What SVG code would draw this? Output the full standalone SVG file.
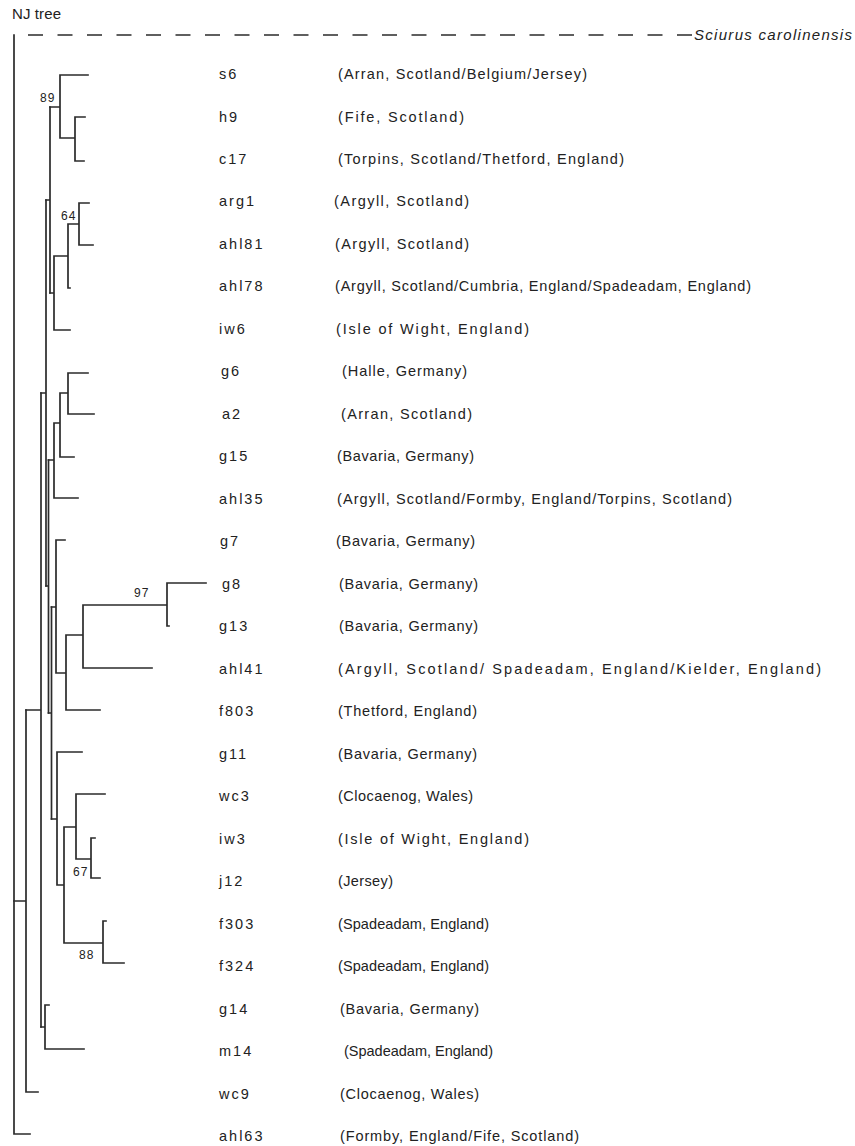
<svg xmlns="http://www.w3.org/2000/svg" width="855" height="1146" viewBox="0 0 855 1146">
<style>
text { font-family: "Liberation Sans", Arial, sans-serif; fill: #222; }
.nm { font-size: 14.5px; letter-spacing: 2px; }
.loc { font-size: 14.5px; letter-spacing: 1px; }
.bs { font-size: 12px; letter-spacing: 1px; }
.ttl { font-size: 15px; letter-spacing: 1px; }
.out { font-size: 15px; font-style: italic; }
.tree path { stroke: #2b2b2b; stroke-width: 1.7; fill: none; stroke-linecap: square; }
.tree path.dash { stroke-dasharray: 15 14.5; stroke-linecap: butt; }
</style>
<rect width="855" height="1146" fill="#fff"/>
<text class="ttl" x="12" y="19" textLength="50" lengthAdjust="spacing">NJ tree</text>
<g id="connectors" class="tree">
<path class="dash" d="M28 35 H692"/>
<path d="M14 35 V1134 H30"/>
<path d="M14 901 H26 M26 710 V1092 H38"/>
<path d="M26 710 H41 M41 393 V1027"/>
<path d="M41 1027 H45 M45 1005 V1049 H84 M45 1005 H49"/>
<path d="M41 393 H46 M46 200 V586"/>
<path d="M46 200 H50 M50 107 V293"/>
<path d="M50 107 H60 M60 75 V138 M60 75 H88 M60 138 H75 M75 117 V161 M75 117 H85 M75 161 H84"/>
<path d="M50 293 H54 M54 256 V330 H70 M54 256 H68 M68 224 V288 H70 M68 224 H79 M79 203 V245 M79 203 H89 M79 245 H93"/>
<path d="M46 586 H48.5 M48.5 460 V713"/>
<path d="M48.5 460 H54 M54 423 V498 H78 M54 423 H60 M60 393 V457 H74 M60 393 H68 M68 373 V414 H94 M68 373 H88"/>
<path d="M48.5 713 H51.5 M51.5 607 V819"/>
<path d="M51.5 607 H56 M56 540 V673 M56 540 H65 M56 673 H66 M66 635 V710 H100 M66 635 H83 M83 605 V668 H152 M83 605 H167 M167 583 V626 H169 M167 583 H206"/>
<path d="M51.5 819 H57 M57 752 V885 M57 752 H82 M57 885 H64 M64 827 V943 H103 M64 827 H76 M76 794 V859 H91 M76 794 H105 M91 838 V878 H100 M91 838 H95 M103 921 V963 H124 M103 921 H106"/>
</g>
<g id="bootstrap">
<text class="bs" x="40" y="102">89</text>
<text class="bs" x="61" y="220">64</text>
<text class="bs" x="134" y="597">97</text>
<text class="bs" x="73" y="876">67</text>
<text class="bs" x="79" y="959">88</text>
</g>
<g id="outgroup"><text class="out" x="694" y="40" textLength="158" lengthAdjust="spacing">Sciurus carolinensis</text></g>
<g id="s6"><text class="nm" x="219" y="79">s6</text><text class="loc" x="338" y="79" textLength="250" lengthAdjust="spacing">(Arran, Scotland/Belgium/Jersey)</text></g>
<g id="h9"><text class="nm" x="219" y="121.5">h9</text><text class="loc" x="338" y="121.5" textLength="127" lengthAdjust="spacing">(Fife, Scotland)</text></g>
<g id="c17"><text class="nm" x="219" y="164">c17</text><text class="loc" x="338" y="164" textLength="287" lengthAdjust="spacing">(Torpins, Scotland/Thetford, England)</text></g>
<g id="arg1"><text class="nm" x="219" y="206.4">arg1</text><text class="loc" x="334" y="206.4" textLength="136" lengthAdjust="spacing">(Argyll, Scotland)</text></g>
<g id="ahl81"><text class="nm" x="219" y="248.9">ahl81</text><text class="loc" x="335" y="248.9" textLength="135" lengthAdjust="spacing">(Argyll, Scotland)</text></g>
<g id="ahl78"><text class="nm" x="219" y="291.4">ahl78</text><text class="loc" x="335" y="291.4" textLength="417" lengthAdjust="spacing">(Argyll, Scotland/Cumbria, England/Spadeadam, England)</text></g>
<g id="iw6"><text class="nm" x="219" y="333.9">iw6</text><text class="loc" x="336" y="333.9" textLength="194" lengthAdjust="spacing">(Isle of Wight, England)</text></g>
<g id="g6"><text class="nm" x="221" y="376.4">g6</text><text class="loc" x="342" y="376.4" textLength="126" lengthAdjust="spacing">(Halle, Germany)</text></g>
<g id="a2"><text class="nm" x="222" y="418.8">a2</text><text class="loc" x="341" y="418.8" textLength="132" lengthAdjust="spacing">(Arran, Scotland)</text></g>
<g id="g15"><text class="nm" x="219" y="461.3">g15</text><text class="loc" x="337" y="461.3" textLength="138" lengthAdjust="spacing">(Bavaria, Germany)</text></g>
<g id="ahl35"><text class="nm" x="219" y="503.8">ahl35</text><text class="loc" x="337" y="503.8" textLength="396" lengthAdjust="spacing">(Argyll, Scotland/Formby, England/Torpins, Scotland)</text></g>
<g id="g7"><text class="nm" x="220" y="546.3">g7</text><text class="loc" x="336" y="546.3" textLength="140" lengthAdjust="spacing">(Bavaria, Germany)</text></g>
<g id="g8"><text class="nm" x="222" y="588.8">g8</text><text class="loc" x="339" y="588.8" textLength="140" lengthAdjust="spacing">(Bavaria, Germany)</text></g>
<g id="g13"><text class="nm" x="219" y="631.2">g13</text><text class="loc" x="339" y="631.2" textLength="140" lengthAdjust="spacing">(Bavaria, Germany)</text></g>
<g id="ahl41"><text class="nm" x="219" y="673.7">ahl41</text><text class="loc" x="338" y="673.7" textLength="484" lengthAdjust="spacing">(Argyll, Scotland/ Spadeadam, England/Kielder, England)</text></g>
<g id="f803"><text class="nm" x="219" y="716.2">f803</text><text class="loc" x="338" y="716.2" textLength="140" lengthAdjust="spacing">(Thetford, England)</text></g>
<g id="g11"><text class="nm" x="219" y="758.7">g11</text><text class="loc" x="338" y="758.7" textLength="140" lengthAdjust="spacing">(Bavaria, Germany)</text></g>
<g id="wc3"><text class="nm" x="219" y="801.2">wc3</text><text class="loc" x="338" y="801.2" textLength="136" lengthAdjust="spacing">(Clocaenog, Wales)</text></g>
<g id="iw3"><text class="nm" x="219" y="843.6">iw3</text><text class="loc" x="338" y="843.6" textLength="192" lengthAdjust="spacing">(Isle of Wight, England)</text></g>
<g id="j12"><text class="nm" x="219" y="886.1">j12</text><text class="loc" x="338" y="886.1" textLength="56" lengthAdjust="spacing">(Jersey)</text></g>
<g id="f303"><text class="nm" x="219" y="928.6">f303</text><text class="loc" x="338" y="928.6" textLength="152" lengthAdjust="spacing">(Spadeadam, England)</text></g>
<g id="f324"><text class="nm" x="219" y="971.1">f324</text><text class="loc" x="338" y="971.1" textLength="152" lengthAdjust="spacing">(Spadeadam, England)</text></g>
<g id="g14"><text class="nm" x="219" y="1013.6">g14</text><text class="loc" x="340" y="1013.6" textLength="140" lengthAdjust="spacing">(Bavaria, Germany)</text></g>
<g id="m14"><text class="nm" x="219" y="1056">m14</text><text class="loc" x="344" y="1056" textLength="150" lengthAdjust="spacing">(Spadeadam, England)</text></g>
<g id="wc9"><text class="nm" x="219" y="1098.5">wc9</text><text class="loc" x="340" y="1098.5" textLength="140" lengthAdjust="spacing">(Clocaenog, Wales)</text></g>
<g id="ahl63"><text class="nm" x="219" y="1141">ahl63</text><text class="loc" x="340" y="1141" textLength="240" lengthAdjust="spacing">(Formby, England/Fife, Scotland)</text></g>
</svg>
